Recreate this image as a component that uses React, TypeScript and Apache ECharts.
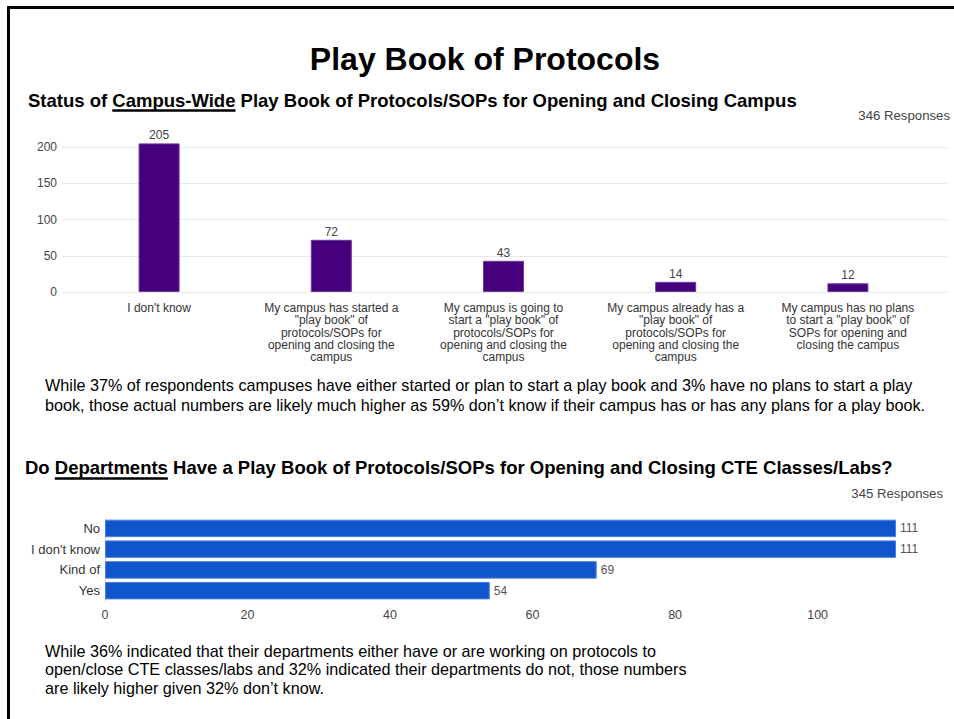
import React, { useEffect, useRef } from "react";
import * as echarts from "echarts";

const FONT = "Liberation Sans, Arial, sans-serif";

const mainTitle = "Play Book of Protocols";
const sub1Parts = ["Status of ", "Campus-Wide", " Play Book of Protocols/SOPs for Opening and Closing Campus"];
const sub2Parts = ["Do ", "Departments", " Have a Play Book of Protocols/SOPs for Opening and Closing CTE Classes/Labs?"];
const responses1 = "346 Responses";
const responses2 = "345 Responses";

const campusCategories = [
  "I don't know",
  "My campus has started a\n\"play book\" of\nprotocols/SOPs for\nopening and closing the\ncampus",
  "My campus is going to\nstart a \"play book\" of\nprotocols/SOPs for\nopening and closing the\ncampus",
  "My campus already has a\n\"play book\" of\nprotocols/SOPs for\nopening and closing the\ncampus",
  "My campus has no plans\nto start a \"play book\" of\nSOPs for opening and\nclosing the campus",
];
const campusValues = [205, 72, 43, 14, 12];
const campusTicks = [0, 50, 100, 150, 200];

const deptCategories = ["No", "I don't know", "Kind of", "Yes"];
const deptValues = [111, 111, 69, 54];
const deptTicks = [0, 20, 40, 60, 80, 100];

const para1 =
  "While 37% of respondents campuses have either started or plan to start a play book and 3% have no plans to start a play\nbook, those actual numbers are likely much higher as 59% don\u2019t know if their campus has or has any plans for a play book.";
const para2 =
  "While 36% indicated that their departments either have or are working on protocols to\nopen/close CTE classes/labs and 32% indicated their departments do not, those numbers\nare likely higher given 32% don\u2019t know.";

function measure(text: string, font: string): number {
  const c = document.createElement("canvas");
  const ctx = c.getContext("2d")!;
  ctx.font = font;
  return ctx.measureText(text).width;
}

export default function App() {
  const ref = useRef<HTMLDivElement>(null);
  useEffect(() => {
    if (!ref.current) return;
    const chart = echarts.init(ref.current, undefined, { renderer: "svg" });
    const subFont = "bold 18.5px " + FONT;
    const u1x = 28 + measure(sub1Parts[0], subFont);
    const u1w = measure(sub1Parts[1], subFont);
    const u2x = 25 + measure(sub2Parts[0], subFont);
    const u2w = measure(sub2Parts[1], subFont);

    chart.setOption({
      animation: false,
      backgroundColor: "#ffffff",
      textStyle: { fontFamily: FONT },
      grid: [
        { left: 62, right: 7, top: 147, height: 145 },
        { left: 73, width: 861, top: 147, height: 145 },
        { left: 105, width: 791, top: 518, height: 83 },
      ],
      xAxis: [
        { gridIndex: 0, type: "value", show: false },
        {
          gridIndex: 1,
          type: "category",
          data: campusCategories,
          axisLine: { show: false },
          axisTick: { show: false },
          axisLabel: { interval: 0, fontSize: 12, color: "#333", lineHeight: 12.3, margin: 10, fontFamily: FONT },
        },
        {
          gridIndex: 2,
          type: "value",
          min: 0,
          max: 111,
          interval: 20,
          axisLine: { show: false },
          axisTick: { show: false },
          splitLine: { show: false },
          axisLabel: {
            fontSize: 12.5,
            color: "#444",
            margin: 7,
            showMaxLabel: false,
            fontFamily: FONT,
            formatter: (v: number) => (deptTicks.includes(v) ? String(v) : ""),
          },
        },
      ],
      yAxis: [
        {
          gridIndex: 0,
          type: "value",
          min: campusTicks[0],
          max: campusTicks[campusTicks.length - 1],
          interval: 50,
          axisLine: { show: false },
          axisTick: { show: false },
          splitLine: { lineStyle: { color: "#e8e8e8", width: 1 } },
          axisLabel: { fontSize: 12, color: "#444", margin: 5, fontFamily: FONT },
        },
        { gridIndex: 1, type: "value", min: 0, max: 200, show: false },
        {
          gridIndex: 2,
          type: "category",
          inverse: true,
          data: deptCategories,
          axisLine: { show: true, lineStyle: { color: "#dddddd" } },
          axisTick: { show: false },
          axisLabel: { fontSize: 13, color: "#333", margin: 5, fontFamily: FONT },
        },
      ],
      series: [
        {
          type: "bar",
          xAxisIndex: 1,
          yAxisIndex: 1,
          data: campusValues,
          barWidth: 41,
          clip: false,
          itemStyle: { color: "#46007c", borderColor: "#6b3b9a", borderWidth: 1 },
          label: { show: true, position: "top", distance: 2, fontSize: 12, color: "#444", fontFamily: FONT },
        },
        {
          type: "bar",
          xAxisIndex: 2,
          yAxisIndex: 2,
          data: deptValues,
          barWidth: 17.5,
          itemStyle: { color: "#1155cc", borderColor: "#4a80dd", borderWidth: 1 },
          label: { show: true, position: "right", distance: 4, fontSize: 12, color: "#555", fontFamily: FONT },
        },
      ],
      graphic: [
        { type: "line", shape: { x1: 7, y1: 7.5, x2: 954, y2: 7.5 }, style: { stroke: "#000", lineWidth: 3 } },
        { type: "line", shape: { x1: 8.5, y1: 6, x2: 8.5, y2: 719 }, style: { stroke: "#000", lineWidth: 3 } },
        {
          type: "text",
          x: 485,
          y: 59,
          style: { text: mainTitle, font: "bold 32px " + FONT, fill: "#000", align: "center", verticalAlign: "middle" },
        },
        {
          type: "text",
          x: 28,
          y: 100,
          style: { text: sub1Parts.join(""), font: subFont, fill: "#000", align: "left", verticalAlign: "middle" },
        },
        { type: "line", shape: { x1: u1x, y1: 110.5, x2: u1x + u1w, y2: 110.5 }, style: { stroke: "#000", lineWidth: 2.5 } },
        {
          type: "text",
          x: 950,
          y: 115,
          style: { text: responses1, font: "13.2px " + FONT, fill: "#444", align: "right", verticalAlign: "middle" },
        },
        {
          type: "text",
          x: 45,
          y: 375,
          style: { text: para1, font: "16.2px " + FONT, fill: "#000", align: "left", verticalAlign: "top", lineHeight: 20 },
        },
        {
          type: "text",
          x: 25,
          y: 467,
          style: { text: sub2Parts.join(""), font: subFont, fill: "#000", align: "left", verticalAlign: "middle" },
        },
        { type: "line", shape: { x1: u2x, y1: 478.5, x2: u2x + u2w, y2: 478.5 }, style: { stroke: "#000", lineWidth: 2.5 } },
        {
          type: "text",
          x: 943,
          y: 493,
          style: { text: responses2, font: "13.2px " + FONT, fill: "#444", align: "right", verticalAlign: "middle" },
        },
        {
          type: "text",
          x: 45,
          y: 641.5,
          style: { text: para2, font: "16.2px " + FONT, fill: "#000", align: "left", verticalAlign: "top", lineHeight: 18.5 },
        },
      ],
    });
    return () => chart.dispose();
  }, []);
  return (
    <div
      ref={ref}
      style={{ position: "fixed", left: 0, top: 0, width: 954, height: 719, background: "#fff" }}
    />
  );
}
